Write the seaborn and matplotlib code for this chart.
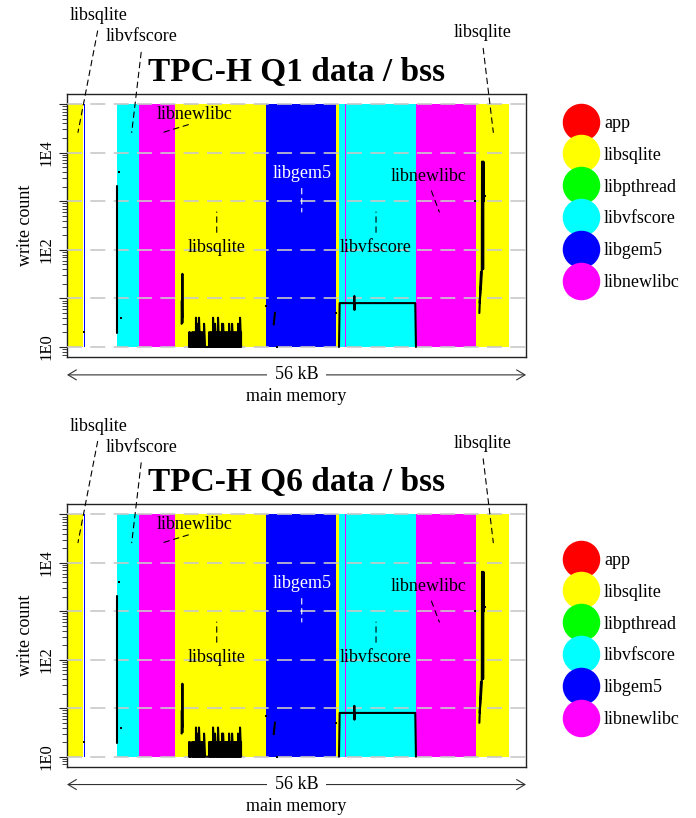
import numpy as np
import pandas as pd
import matplotlib
matplotlib.use("Agg")
import matplotlib.pyplot as plt
import seaborn as sns
from matplotlib.lines import Line2D
from matplotlib.ticker import NullFormatter

sns.set_theme(style="ticks")
plt.rcParams["font.family"] = ["Liberation Serif", "DejaVu Serif"]
plt.rcParams["text.color"] = "black"
plt.rcParams["axes.labelcolor"] = "black"
plt.rcParams["xtick.color"] = "black"
plt.rcParams["ytick.color"] = "black"

# ---------------- data ----------------
libraries = ["app", "libsqlite", "libpthread", "libvfscore", "libgem5", "libnewlibc"]
lib_colors = ["#ff0000", "#ffff00", "#00ff00", "#00ffff", "#0000ff", "#ff00ff"]

# memory regions (kB) owned by each library
band_lib = ["libsqlite", "libgem5", "libvfscore", "libnewlibc", "libsqlite", "libgem5",
            "libsqlite", "libvfscore", "libnewlibc", "libnewlibc", "libsqlite"]
band_start = [0.00, 2.15, 6.30, 9.16, 13.68, 25.18, 34.04, 34.50, 35.20, 44.22, 51.82]
band_end = [2.07, 2.26, 9.16, 13.68, 25.18, 34.04, 34.50, 44.22, 35.32, 51.82, 56.00]

# write-count trace segments (x in kB, y = writes)
seg1_x = [6.30, 6.30]
seg1_y = [1.9, 2050]
seg2_x = [14.52, 14.55, 14.58, 14.62, 14.66]
seg2_y = [3.0, 9.0, 4.0, 32, 3.2]
# dense libsqlite region: every address drops back to 1 write between peaks
seg3_x = [15.46, 15.58, 15.71, 15.84, 15.96, 16.09, 16.22, 16.34, 16.47, 16.60,
          16.72, 16.85, 16.98, 17.10, 17.23, 17.36, 17.48, 17.61, 17.74, 17.86,
          17.99, 18.12, 18.24, 18.37, 18.50, 18.62, 18.75, 18.88, 19.00, 19.13,
          19.26, 19.38, 19.51, 19.64, 19.77, 19.89, 20.02, 20.15, 20.27, 20.40,
          20.53, 20.65, 20.78, 20.91, 21.03, 21.16, 21.29, 21.41, 21.54, 21.67,
          21.79, 21.92, 22.05]
seg3_y = [2, 2, 1, 2, 2, 2, 2, 4, 2, 3,
          4, 2, 2, 2, 2, 3, 1, 1, 1, 1,
          2, 2, 2, 2, 4, 2, 3, 2, 2, 4,
          2, 2, 2, 3, 3, 2, 2, 2, 2, 2,
          3, 2, 2, 3, 2, 2, 2, 2, 2, 3,
          2, 4, 2]
seg3_floor = 1
seg4_x = [26.19, 26.35]
seg4_y = [2.9, 5.1]
seg5_x = [34.46, 34.54, 36.38, 36.40, 36.42, 36.44, 44.12, 44.21]
seg5_y = [1, 8, 8, 11.2, 5.8, 8, 8, 1]
seg6_x = [52.24, 52.35, 52.30, 52.45, 52.42, 52.55, 52.58, 52.64, 52.68, 52.72, 52.76, 52.80]
seg6_y = [5, 14, 8, 35, 15, 33, 6500, 40, 6500, 40, 6500, 1000]
dots_x = [2.20, 6.63, 6.84, 25.17, 26.57, 34.08, 51.69, 52.96]
dots_y = [2, 4000, 4, 7, 1, 5, 1000, 1250]

# annotations: label, target (kB, writes), label anchor (kB, writes)
ann_label = ["libsqlite", "libvfscore", "libnewlibc", "libsqlite",
             "libgem5", "libvfscore", "libnewlibc", "libsqlite"]
ann_x = [1.39, 8.20, 12.16, 18.97, 29.74, 39.15, 47.17, 54.01]
ann_y = [2.6e4, 2.6e4, 2.6e4, 600, 600, 600, 600, 2.6e4]
ann_tx = [4.05, 9.50, 16.22, 18.97, 29.74, 39.15, 45.86, 52.62]
ann_ty = [6.6e6, 2.4e6, 6.2e4, 110, 3800, 110, 3300, 2.9e6]

panels = ["TPC-H Q1 data / bss", "TPC-H Q6 data / bss"]

# ---------------- build tables ----------------
rows = []
def add(sid, xs, ys):
    for xv, yv in zip(xs, ys):
        rows.append({"seg": sid, "order": len(rows), "kB": xv, "writes": yv})

add(0, seg1_x, seg1_y)
add(1, seg2_x, seg2_y)
for xv, yv in zip(seg3_x, seg3_y):
    add(2, [xv, xv], [seg3_floor, yv])
add(3, seg4_x, seg4_y)
add(4, seg5_x, seg5_y)
add(5, seg6_x, seg6_y)
trace = pd.DataFrame(rows)
dots = pd.DataFrame({"kB": dots_x, "writes": dots_y})
color_of = dict(zip(libraries, lib_colors))

# ---------------- figure ----------------
W, H = 696, 818
fig = plt.figure(figsize=(W / 100, H / 100), dpi=100)
fig.patch.set_facecolor("white")

axes_px = [(67, 94, 526, 357), (67, 504.3, 526, 766.7)]
legend_top_px = [115.0, 552.0]
FS = 13

for pi, title in enumerate(panels):
    x0, y0, x1, y1 = axes_px[pi]
    ax = fig.add_axes([x0 / W, 1 - y1 / H, (x1 - x0) / W, (y1 - y0) / H])
    ax.set_facecolor("white")
    ax.set_yscale("log")
    ax.set_xlim(0, 58.15)
    ax.set_ylim(10 ** -0.206, 10 ** 5.206)

    # library regions
    for lib, s, e in zip(band_lib, band_start, band_end):
        ax.bar(s, 1e5 - 1, width=e - s, bottom=1, align="edge",
               color=color_of[lib], linewidth=0, zorder=1)

    # write trace
    sns.lineplot(data=trace, x="kB", y="writes", units="seg", estimator=None,
                 sort=False, color="black", lw=1.5, ax=ax, legend=False, zorder=4)
    sns.scatterplot(data=dots, x="kB", y="writes", color="black", marker="s",
                    s=4, linewidth=0, ax=ax, legend=False, zorder=4)

    # grid / ticks
    ax.set_axisbelow(False)
    ax.yaxis.grid(True, which="major", color="#c8c8c8", ls=(0, (9, 5)), lw=1.2)
    ax.xaxis.grid(False)
    ax.set_xticks([])
    ax.set_yticks([1, 10, 100, 1e3, 1e4, 1e5])
    ax.set_yticklabels(["1E0", "", "1E2", "", "1E4", ""], rotation=90,
                       va="center", fontsize=12)
    ax.yaxis.set_minor_formatter(NullFormatter())
    ax.tick_params(axis="y", which="major", direction="out", length=6, width=0.8,
                   pad=3, colors="#222", labelcolor="black")
    ax.tick_params(axis="y", which="minor", direction="out", length=3.5, width=0.6,
                   colors="#222")
    for sp in ax.spines.values():
        sp.set_visible(True)
        sp.set_color("#222")
        sp.set_linewidth(1.0)
    ax.set_xlabel("")
    ax.set_ylabel("write count", fontsize=FS, labelpad=3, color="black")

    # annotations
    for lab, ax_, ay_, tx, ty in zip(ann_label, ann_x, ann_y, ann_tx, ann_ty):
        col = "white" if lab == "libgem5" else "black"
        below = ty < ay_
        ax.annotate(lab, xy=(ax_, ay_), xytext=(tx, ty), ha="center", va="center",
                    fontsize=FS, color=col, annotation_clip=False, zorder=6,
                    arrowprops=dict(arrowstyle="-", color=col, lw=0.8,
                                    ls=(0, (5, 4)), patchA=None,
                                    relpos=(0.5, 1.0) if below else (0.5, 0.0),
                                    shrinkA=5, shrinkB=0))

    # title
    ax.text(0.5, 1.049, title, transform=ax.transAxes, ha="center", va="baseline",
            fontsize=24, fontweight="bold", color="black")

    # size arrow + axis caption
    ax.annotate("", xy=(0, -0.068), xytext=(1, -0.068), xycoords="axes fraction",
                textcoords="axes fraction", annotation_clip=False,
                arrowprops=dict(arrowstyle="<->,head_length=0.5,head_width=0.3",
                                lw=0.8, color="#333", shrinkA=0, shrinkB=0))
    ax.text(0.5, -0.068, "56 kB", transform=ax.transAxes, ha="center", va="center",
            fontsize=FS, bbox=dict(boxstyle="square,pad=0.4", fc="white", ec="none"))
    ax.text(0.5, -0.152, "main memory", transform=ax.transAxes, ha="center",
            va="center", fontsize=FS)

    # legend
    handles = [Line2D([], [], ls="", marker="o", markersize=26,
                      markerfacecolor=c, markeredgecolor=c) for c in lib_colors]
    fig.legend(handles, libraries, loc="upper left",
               bbox_to_anchor=(566.9 / W, 1 - legend_top_px[pi] / H),
               bbox_transform=fig.transFigure, frameon=False, fontsize=FS,
               handlelength=1.6, handletextpad=0.45, labelspacing=0.82,
               borderpad=0, borderaxespad=0, labelcolor="black")

fig.savefig("out.png", dpi=100, facecolor="white")
